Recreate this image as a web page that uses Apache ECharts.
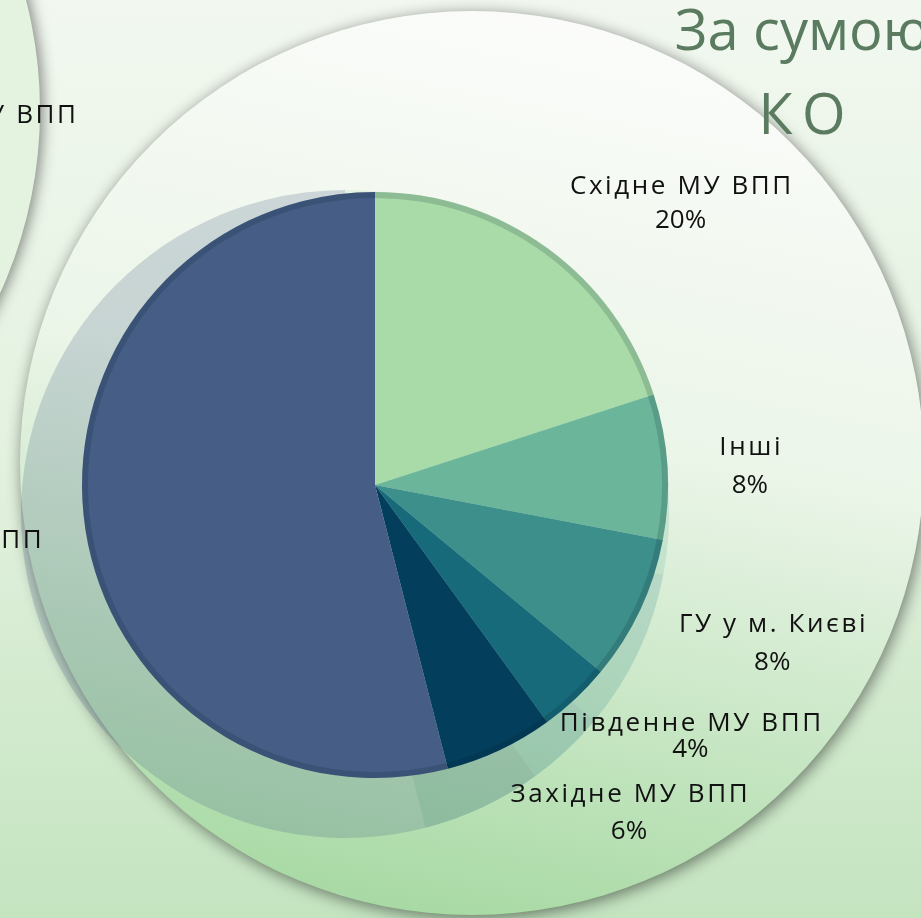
<!DOCTYPE html>
<html>
<head>
<meta charset="utf-8">
<title>За сумою КО</title>
<script src="https://cdn.jsdelivr.net/npm/echarts@6.0.0/dist/echarts.min.js"></script>
<style>
  html, body { margin: 0; padding: 0; background: #eef6ec; }
  #chart { width: 921px; height: 918px; }
</style>
</head>
<body>
<div id="chart"></div>
<script>
// підрозділи за годинниковою стрілкою від 12-ї години
var categories = ['Східне МУ ВПП', 'Інші', 'ГУ у м. Києві', 'Південне МУ ВПП', 'Західне МУ ВПП', 'Центральне МУ ВПП'];
var shares = [20, 8, 8, 4, 6, 54];
var titleLines = ['За сумою', 'КО'];
// підпис сусідньої діаграми, що обрізаний краєм слайда
var neighbourLabel = 'Східне МУ ВПП';

var sliceColors = ['#a8dba8', '#6bb59b', '#3d8f8b', '#176a7a', '#033f5c', '#465e86'];

var CX = 375, CY = 485, R = 293;
var labelGap = [25, 52, 34, 6, 32, 43];
var labelShift = [[8, 10], [0, 10], [8, -19], [-20, 8], [-3, -3], [0, 18]];
var labelLineHeight = [34, 38, 38, 26, 37, 37];

var total = shares.reduce(function (a, b) { return a + b; }, 0);
var midAngles = [];
var acc = 0;
shares.forEach(function (v) {
    midAngles.push((acc + v / 2) / total * Math.PI * 2);
    acc += v;
});

// розріджений шрифт як на слайді
function spaced(s, sep) {
    return s.split('').join(sep || '\u200a');
}

var pieData = categories.map(function (name, i) {
    return {
        name: name, value: shares[i],
        itemStyle: { color: sliceColors[i] },
        label: { lineHeight: labelLineHeight[i] }
    };
});

var myChart = echarts.init(document.getElementById('chart'));

var option = {
    animation: false,
    graphic: [
        {
            type: 'rect', z: -10, z2: 0,
            shape: { x: 0, y: 0, width: 921, height: 918 },
            style: {
                fill: new echarts.graphic.LinearGradient(0, 0, 0, 1, [
                    { offset: 0, color: '#f2f8f0' },
                    { offset: 0.5, color: '#e3f1df' },
                    { offset: 1, color: '#c4e4c0' }
                ])
            },
            silent: true
        },
        {
            type: 'circle', z: -10, z2: 1,
            shape: { cx: -400, cy: 110, r: 440 },
            style: {
                fill: '#e4f2e0',
                shadowBlur: 14, shadowColor: 'rgba(0,0,0,0.45)', shadowOffsetX: 3
            },
            silent: true
        },
        {
            type: 'circle', z: -10, z2: 2,
            shape: { cx: 472, cy: 463, r: 452 },
            style: {
                fill: new echarts.graphic.LinearGradient(0.6, 0, 0.4, 1, [
                    { offset: 0, color: '#fbfcfa' },
                    { offset: 0.45, color: '#ebf5e8' },
                    { offset: 1, color: '#a7d9a3' }
                ]),
                shadowBlur: 16, shadowColor: 'rgba(0,0,0,0.5)', shadowOffsetX: 2, shadowOffsetY: 3
            },
            silent: true
        },
        {
            type: 'text', z: -10, z2: 3,
            x: 802, y: 76,
            style: {
                text: titleLines[0] + '\n' + spaced(titleLines[1], '\u2009'),
                align: 'center', verticalAlign: 'middle',
                fontFamily: 'Open Sans', fontSize: 56, lineHeight: 84,
                fill: '#5a7b60'
            },
            silent: true
        },
        {
            type: 'text', z: -10, z2: 3,
            x: 76, y: 116,
            style: {
                text: spaced(neighbourLabel),
                align: 'right', verticalAlign: 'middle',
                fontFamily: 'Open Sans', fontSize: 26,
                fill: '#111'
            },
            silent: true
        }
    ],
    series: [
        {
            // напівпрозора тінь діаграми
            type: 'pie', z: 1, silent: true,
            center: [345, 514], radius: 324,
            startAngle: 90, clockwise: true,
            data: pieData,
            itemStyle: { opacity: 0.22 },
            label: { show: false }, labelLine: { show: false },
            emphasis: { disabled: true }
        },
        {
            type: 'pie', z: 2, silent: true,
            center: [CX, CY], radius: R,
            startAngle: 90, clockwise: true,
            avoidLabelOverlap: false,
            data: pieData,
            label: {
                show: true,
                position: 'outside',
                color: '#111',
                fontFamily: 'Open Sans',
                fontSize: 26,
                formatter: function (p) {
                    return spaced(p.name) + '\n' + p.value + '%';
                }
            },
            labelLine: { show: false },
            labelLayout: function (p) {
                var i = p.dataIndex, a = midAngles[i];
                var ux = Math.sin(a), uy = -Math.cos(a);
                var d = R + labelGap[i];
                var px = CX + ux * d, py = CY + uy * d;
                var w = p.labelRect.width, h = p.labelRect.height;
                var kx = Math.max(-1, Math.min(1, ux * 3));
                var ky = Math.max(-1, Math.min(1, uy * 3));
                return {
                    x: px + kx * w / 2 + labelShift[i][0],
                    y: py + ky * h / 2 + labelShift[i][1],
                    align: 'center', verticalAlign: 'middle',
                    hideOverlap: false
                };
            },
            emphasis: { disabled: true }
        },
        {
            // темніший обідок по краю
            type: 'pie', z: 3, silent: true,
            center: [CX, CY], radius: [R - 6, R],
            startAngle: 90, clockwise: true,
            data: shares.map(function (v) { return { value: v }; }),
            itemStyle: { color: 'rgba(0,25,35,0.16)' },
            label: { show: false }, labelLine: { show: false },
            emphasis: { disabled: true }
        }
    ]
};

myChart.setOption(option);
</script>
</body>
</html>
